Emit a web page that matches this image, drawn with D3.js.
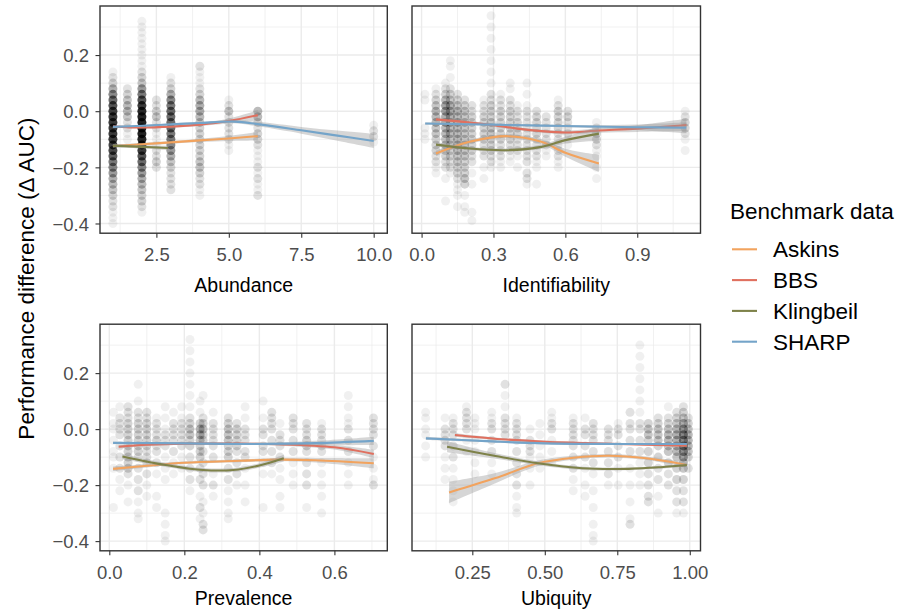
<!DOCTYPE html>
<html><head><meta charset="utf-8">
<script src="https://cdn.jsdelivr.net/npm/d3@7"></script>
<style>body{margin:0;background:#fff} text{font-family:"Liberation Sans",Arial,Helvetica,sans-serif}</style>
</head><body><svg id="c" width="914" height="612"></svg>
<script>
// ---------------- DATA ----------------
const series = ["Askins", "BBS", "Klingbeil", "SHARP"];
const seriesColors = ["#F2A35E", "#E0705F", "#7E8249", "#74A4C9"];
const yTicks = [-0.4, -0.2, 0, 0.2];
const yMinor = [-0.3, -0.1, 0.1, 0.3];

const abundanceTicks = [2.5, 5, 7.5, 10];
const abundanceMinor = [1.25, 3.75, 6.25, 8.75];
const identTicks = [0, 0.3, 0.6, 0.9];
const identMinor = [0.15, 0.45, 0.75, 1.05];
const prevTicks = [0, 0.2, 0.4, 0.6];
const prevMinor = [0.1, 0.3, 0.5, 0.7];
const ubiqTicks = [0.25, 0.5, 0.75, 1.0];
const ubiqMinor = [0.125, 0.375, 0.625, 0.875];

// point columns: [x, [[y, count], ...]]
const abundancePts = [
  [1, [[0.14,1],[0.12,2],[0.10,3],[0.08,6],[0.06,10],[0.04,14],[0.02,18],[0.0,22],[-0.02,24],[-0.04,24],[-0.06,24],[-0.08,24],[-0.10,24],[-0.12,22],[-0.14,20],[-0.16,16],[-0.18,12],[-0.20,10],[-0.22,8],[-0.24,6],[-0.26,5],[-0.28,4],[-0.30,3],[-0.32,2],[-0.34,2],[-0.36,1],[-0.38,1],[-0.40,1]]],
  [1.5, [[0.08,2],[0.06,3],[0.04,4],[0.02,5],[0.0,5],[-0.02,4],[-0.04,2],[-0.06,2],[-0.08,1],[-0.10,1]]],
  [2, [[0.32,1],[0.30,1],[0.28,1],[0.26,1],[0.24,1],[0.22,1],[0.20,1],[0.18,1],[0.16,1],[0.14,2],[0.12,3],[0.10,4],[0.08,8],[0.06,12],[0.04,18],[0.02,24],[0.0,30],[-0.02,32],[-0.04,32],[-0.06,32],[-0.08,32],[-0.10,30],[-0.12,28],[-0.14,24],[-0.16,18],[-0.18,14],[-0.20,10],[-0.22,8],[-0.24,6],[-0.26,5],[-0.28,4],[-0.30,3],[-0.32,3],[-0.34,2],[-0.36,1]]],
  [2.5, [[0.04,2],[0.02,2],[0.0,3],[-0.02,4],[-0.04,2],[-0.06,2],[-0.08,1],[-0.10,1],[-0.12,1],[-0.14,2],[-0.16,2],[-0.18,3],[-0.20,2]]],
  [3, [[0.12,1],[0.10,2],[0.08,3],[0.06,6],[0.04,10],[0.02,12],[0.0,14],[-0.02,14],[-0.04,14],[-0.06,14],[-0.08,12],[-0.10,12],[-0.12,10],[-0.14,8],[-0.16,6],[-0.18,4],[-0.20,3],[-0.22,2],[-0.24,2],[-0.26,2],[-0.28,2]]],
  [4, [[0.16,2],[0.14,1],[0.12,1],[0.10,1],[0.08,2],[0.06,3],[0.04,5],[0.02,6],[0.0,6],[-0.02,5],[-0.04,4],[-0.06,3],[-0.08,3],[-0.10,3],[-0.12,3],[-0.14,3],[-0.16,3],[-0.18,4],[-0.20,4],[-0.22,3],[-0.24,2],[-0.26,2],[-0.28,1],[-0.30,1]]],
  [5, [[0.04,1],[0.02,2],[0.0,4],[-0.02,2],[-0.04,2],[-0.06,2],[-0.08,2],[-0.10,2],[-0.12,1],[-0.14,1]]],
  [6, [[0.0,5],[-0.02,5],[-0.04,3],[-0.06,2],[-0.08,3],[-0.10,3],[-0.12,2],[-0.14,1],[-0.16,1],[-0.18,1],[-0.20,2],[-0.22,1],[-0.24,2],[-0.26,1],[-0.28,1],[-0.30,2]]],
  [10, [[-0.05,1],[-0.07,2],[-0.09,2],[-0.11,1]]]
];

const identPts = [
  [0.014, [[0.06,1],[0.04,1],[-0.06,1],[-0.08,1],[-0.10,1]]],
  [0.06, [[0.08,1],[0.06,2],[0.04,3],[0.02,4],[0.0,5],[-0.02,5],[-0.04,5],[-0.06,4],[-0.08,4],[-0.10,3],[-0.12,3],[-0.14,3],[-0.16,2],[-0.18,2],[-0.20,1],[-0.22,1]]],
  [0.10, [[0.10,1],[0.08,2],[0.06,3],[0.04,5],[0.02,7],[0.0,7],[-0.02,6],[-0.04,6],[-0.06,5],[-0.08,5],[-0.10,4],[-0.12,4],[-0.14,3],[-0.16,3],[-0.18,2],[-0.20,2],[-0.24,1],[-0.32,1]]],
  [0.12, [[0.18,1],[0.16,1],[0.12,1],[0.08,2],[0.06,3],[0.04,4],[0.02,6],[0.0,6],[-0.02,6],[-0.04,5],[-0.06,5],[-0.08,5],[-0.10,4],[-0.12,4],[-0.14,3],[-0.16,3],[-0.18,2],[-0.20,2],[-0.22,1]]],
  [0.15, [[0.06,2],[0.04,3],[0.02,4],[0.0,5],[-0.02,5],[-0.04,5],[-0.06,5],[-0.08,5],[-0.10,5],[-0.12,5],[-0.14,5],[-0.16,4],[-0.18,4],[-0.20,3],[-0.22,3],[-0.24,2],[-0.26,1],[-0.28,1],[-0.30,1],[-0.34,1]]],
  [0.18, [[0.04,2],[0.02,3],[0.0,4],[-0.02,4],[-0.04,4],[-0.06,4],[-0.08,4],[-0.10,4],[-0.12,4],[-0.14,4],[-0.16,4],[-0.18,3],[-0.20,3],[-0.22,3],[-0.24,4],[-0.26,3],[-0.30,1],[-0.34,1],[-0.36,1]]],
  [0.21, [[0.02,2],[0.0,2],[-0.02,3],[-0.04,3],[-0.06,3],[-0.08,3],[-0.10,3],[-0.12,3],[-0.14,3],[-0.16,2],[-0.18,2],[-0.22,1],[-0.26,1],[-0.36,1],[-0.39,1]]],
  [0.26, [[0.04,1],[0.02,2],[0.0,2],[-0.02,3],[-0.04,3],[-0.06,3],[-0.08,3],[-0.10,3],[-0.12,2],[-0.14,2],[-0.16,2],[-0.20,1],[-0.24,1]]],
  [0.29, [[0.34,1],[0.30,1],[0.26,1],[0.22,1],[0.18,1],[0.14,1],[0.10,1],[0.06,2],[0.04,2],[0.02,3],[0.0,3],[-0.02,3],[-0.04,4],[-0.06,4],[-0.08,4],[-0.10,3],[-0.12,3],[-0.14,3],[-0.16,2],[-0.18,2],[-0.20,1]]],
  [0.33, [[0.06,1],[0.04,2],[0.02,2],[0.0,3],[-0.02,3],[-0.04,3],[-0.06,3],[-0.08,3],[-0.10,3],[-0.12,2],[-0.14,2],[-0.16,2],[-0.18,1],[-0.20,1]]],
  [0.37, [[0.10,1],[0.08,1],[0.04,2],[0.02,2],[0.0,3],[-0.02,3],[-0.04,3],[-0.06,3],[-0.08,3],[-0.10,3],[-0.12,2],[-0.14,2],[-0.16,1],[-0.18,1]]],
  [0.40, [[0.02,1],[0.0,2],[-0.02,2],[-0.04,3],[-0.06,3],[-0.08,3],[-0.10,2],[-0.12,2],[-0.14,2],[-0.16,1],[-0.20,1]]],
  [0.44, [[0.10,1],[0.06,1],[0.02,1],[0.0,2],[-0.02,2],[-0.04,2],[-0.06,2],[-0.08,2],[-0.10,2],[-0.12,2],[-0.14,2],[-0.16,2],[-0.18,2],[-0.22,2],[-0.24,2],[-0.26,1]]],
  [0.48, [[0.0,2],[-0.02,3],[-0.04,3],[-0.06,3],[-0.08,3],[-0.10,2],[-0.12,2],[-0.14,2],[-0.16,2],[-0.18,1],[-0.20,1],[-0.26,1]]],
  [0.52, [[-0.02,2],[-0.04,2],[-0.06,2],[-0.08,2],[-0.10,2],[-0.12,2],[-0.14,1],[-0.16,1]]],
  [0.57, [[0.04,1],[0.02,2],[0.0,3],[-0.02,3],[-0.04,3],[-0.06,3],[-0.08,2],[-0.10,2],[-0.12,2],[-0.14,2],[-0.16,2],[-0.18,1],[-0.20,1]]],
  [0.61, [[0.0,2],[-0.02,3],[-0.04,2],[-0.06,2],[-0.08,2],[-0.10,1],[-0.12,1]]],
  [0.73, [[-0.04,1],[-0.06,2],[-0.08,3],[-0.10,3],[-0.12,2],[-0.14,1],[-0.16,1],[-0.20,1],[-0.24,1]]],
  [1.10, [[0.0,1],[-0.02,2],[-0.04,3],[-0.06,3],[-0.08,2],[-0.10,1],[-0.14,1]]]
];

const prevPts = [
  [0.011, [[0.06,1],[0.02,1],[0.0,1],[-0.04,1],[-0.08,1],[-0.10,1],[-0.14,1],[-0.28,1]]],
  [0.028, [[0.08,1],[0.04,2],[0.02,2],[0.0,2],[-0.02,2],[-0.06,2],[-0.10,2],[-0.14,2],[-0.18,1],[-0.22,1]]],
  [0.05, [[0.08,2],[0.06,2],[0.04,2],[0.02,3],[0.0,3],[-0.02,3],[-0.04,3],[-0.06,3],[-0.08,3],[-0.10,3],[-0.12,3],[-0.14,3],[-0.16,2],[-0.20,1],[-0.26,1]]],
  [0.077, [[0.16,1],[0.10,1],[0.06,2],[0.04,2],[0.02,3],[0.0,3],[-0.02,3],[-0.04,3],[-0.06,3],[-0.08,3],[-0.10,2],[-0.14,2],[-0.18,2],[-0.22,2],[-0.26,1],[-0.30,1],[-0.32,1]]],
  [0.10, [[0.06,2],[0.04,2],[0.02,3],[0.0,3],[-0.02,3],[-0.04,3],[-0.06,3],[-0.08,2],[-0.10,2],[-0.12,2],[-0.16,2],[-0.20,1],[-0.24,1]]],
  [0.126, [[0.04,1],[0.02,2],[0.0,2],[-0.02,2],[-0.04,3],[-0.06,2],[-0.08,2],[-0.12,2],[-0.16,1],[-0.24,1],[-0.28,1]]],
  [0.149, [[0.08,1],[0.04,1],[0.0,1],[-0.02,2],[-0.04,2],[-0.06,2],[-0.10,1],[-0.14,1],[-0.18,1],[-0.30,1],[-0.34,1],[-0.38,1],[-0.40,1]]],
  [0.171, [[0.06,1],[0.02,2],[0.0,2],[-0.02,2],[-0.04,2],[-0.08,2],[-0.12,1],[-0.16,1]]],
  [0.193, [[0.08,1],[0.04,1],[0.02,2],[0.0,2],[-0.02,2],[-0.04,2],[-0.06,2],[-0.10,1],[-0.14,1]]],
  [0.215, [[0.32,1],[0.28,1],[0.24,1],[0.20,1],[0.16,1],[0.12,1],[0.08,1],[0.04,2],[0.02,3],[0.0,4],[-0.02,4],[-0.04,3],[-0.06,3],[-0.10,2],[-0.14,2],[-0.18,2],[-0.22,1]]],
  [0.242, [[0.10,1],[0.06,1],[0.02,3],[0.0,5],[-0.02,5],[-0.04,4],[-0.06,3],[-0.08,3],[-0.10,3],[-0.14,2],[-0.18,2],[-0.24,1],[-0.28,2],[-0.32,1]]],
  [0.25, [[0.12,1],[0.04,2],[0.02,3],[0.0,4],[-0.02,3],[-0.04,3],[-0.08,2],[-0.12,2],[-0.16,2],[-0.20,2],[-0.26,1],[-0.30,1],[-0.34,2],[-0.36,2]]],
  [0.277, [[0.06,1],[0.02,2],[0.0,2],[-0.02,2],[-0.04,2],[-0.06,2],[-0.10,2],[-0.16,1],[-0.20,2],[-0.24,1]]],
  [0.317, [[0.04,2],[0.02,3],[0.0,4],[-0.02,4],[-0.04,4],[-0.06,3],[-0.08,3],[-0.10,3],[-0.14,2],[-0.18,2],[-0.22,1],[-0.26,1],[-0.30,1],[-0.32,1]]],
  [0.34, [[0.02,2],[0.0,3],[-0.02,3],[-0.04,3],[-0.06,3],[-0.08,2],[-0.12,2],[-0.16,2],[-0.20,1]]],
  [0.362, [[0.08,1],[0.04,1],[0.0,2],[-0.02,2],[-0.04,2],[-0.08,2],[-0.10,2],[-0.14,1],[-0.20,1],[-0.26,1]]],
  [0.41, [[0.10,1],[0.04,1],[0.0,2],[-0.02,2],[-0.06,2],[-0.08,2],[-0.12,1],[-0.16,1],[-0.28,1]]],
  [0.433, [[0.06,2],[0.04,2],[0.02,2],[0.0,2],[-0.04,2],[-0.08,2],[-0.12,2],[-0.16,1]]],
  [0.455, [[0.02,1],[-0.02,2],[-0.04,2],[-0.06,2],[-0.10,2],[-0.14,1],[-0.18,1],[-0.24,1],[-0.28,1]]],
  [0.49, [[0.04,2],[0.02,2],[0.0,2],[-0.04,2],[-0.08,2],[-0.12,1],[-0.16,1],[-0.20,1]]],
  [0.526, [[0.02,2],[0.0,2],[-0.02,2],[-0.04,3],[-0.06,3],[-0.08,2],[-0.12,2],[-0.16,2],[-0.20,2],[-0.28,1]]],
  [0.566, [[0.02,1],[0.0,2],[-0.02,2],[-0.04,2],[-0.06,2],[-0.08,2],[-0.12,1],[-0.16,1],[-0.20,1],[-0.24,1],[-0.30,1]]],
  [0.637, [[0.12,1],[0.08,1],[0.04,1],[0.02,1],[0.0,2],[-0.04,2],[-0.08,2],[-0.12,1],[-0.16,1],[-0.20,1]]],
  [0.704, [[0.04,2],[0.02,2],[0.0,2],[-0.02,2],[-0.06,2],[-0.10,1],[-0.14,1],[-0.18,1],[-0.20,2]]]
];

const ubiqPts = [
  [0.089, [[0.06,1],[0.04,1],[0.0,1],[-0.02,1],[-0.06,1],[-0.10,1]]],
  [0.156, [[0.04,1],[0.0,2],[-0.02,2],[-0.04,2],[-0.06,2],[-0.10,1],[-0.14,1],[-0.18,1]]],
  [0.184, [[0.04,1],[0.02,2],[0.0,2],[-0.02,2],[-0.06,2],[-0.10,2],[-0.14,1],[-0.18,1],[-0.22,1],[-0.26,1]]],
  [0.23, [[0.08,1],[0.06,2],[0.04,2],[0.02,2],[0.0,2],[-0.04,1],[-0.08,1]]],
  [0.259, [[0.04,1],[0.02,1],[0.0,1],[-0.04,1],[-0.08,1],[-0.12,1],[-0.16,1]]],
  [0.317, [[0.06,1],[0.04,1],[0.02,2],[0.0,2],[-0.04,2],[-0.08,2],[-0.12,1],[-0.16,1]]],
  [0.363, [[0.16,2],[0.12,1],[0.08,1],[0.04,2],[0.02,2],[0.0,2],[-0.02,2]]],
  [0.403, [[0.04,1],[0.02,2],[0.0,2],[-0.02,2],[-0.04,2],[-0.08,2],[-0.12,2],[-0.16,2],[-0.20,2],[-0.24,1],[-0.28,1],[-0.30,1]]],
  [0.449, [[0.0,1],[-0.04,2],[-0.06,2],[-0.08,2],[-0.10,1],[-0.14,1],[-0.20,1]]],
  [0.483, [[0.02,1],[-0.02,1],[-0.06,1],[-0.10,1],[-0.14,1]]],
  [0.524, [[0.06,1],[0.04,1],[0.02,2],[0.0,2],[-0.04,1],[-0.08,1],[-0.12,1]]],
  [0.598, [[0.04,1],[0.02,2],[0.0,2],[-0.02,2],[-0.04,2],[-0.06,2],[-0.10,2],[-0.14,2],[-0.18,1],[-0.22,1]]],
  [0.639, [[0.04,1],[0.0,2],[-0.02,2],[-0.06,2],[-0.10,2],[-0.14,1],[-0.20,1],[-0.24,1]]],
  [0.667, [[0.02,2],[0.0,2],[-0.02,2],[-0.04,2],[-0.08,2],[-0.12,2],[-0.16,1],[-0.22,1],[-0.28,1],[-0.34,1],[-0.38,1],[-0.40,1]]],
  [0.719, [[0.0,2],[-0.02,2],[-0.04,2],[-0.08,2],[-0.12,2],[-0.16,2],[-0.20,1]]],
  [0.753, [[0.02,1],[0.0,2],[-0.02,2],[-0.06,2],[-0.10,2],[-0.14,1],[-0.20,1]]],
  [0.794, [[0.06,2],[0.02,2],[0.0,2],[-0.04,2],[-0.08,2],[-0.14,1],[-0.20,1],[-0.26,1],[-0.32,1],[-0.34,2]]],
  [0.828, [[0.30,1],[0.26,1],[0.22,1],[0.18,1],[0.14,1],[0.10,1],[0.06,1],[0.02,2],[0.0,2],[-0.04,2],[-0.08,2],[-0.12,1],[-0.16,1],[-0.20,1]]],
  [0.857, [[0.02,3],[0.0,4],[-0.02,4],[-0.04,3],[-0.08,3],[-0.12,3],[-0.16,2],[-0.20,2],[-0.24,2],[-0.26,2]]],
  [0.891, [[0.04,2],[0.02,3],[0.0,4],[-0.02,4],[-0.04,4],[-0.06,3],[-0.10,3],[-0.14,2],[-0.18,2],[-0.24,1],[-0.30,1]]],
  [0.926, [[0.08,1],[0.04,2],[0.02,3],[0.0,4],[-0.02,5],[-0.04,5],[-0.06,4],[-0.08,4],[-0.12,3],[-0.16,2],[-0.20,2]]],
  [0.955, [[0.06,2],[0.04,3],[0.02,4],[0.0,5],[-0.02,6],[-0.04,6],[-0.06,5],[-0.08,5],[-0.10,4],[-0.14,3],[-0.18,3],[-0.22,2],[-0.26,2],[-0.30,1]]],
  [0.978, [[0.08,2],[0.06,3],[0.04,4],[0.02,6],[0.0,8],[-0.02,10],[-0.04,10],[-0.06,10],[-0.08,9],[-0.10,7],[-0.12,5],[-0.14,4],[-0.18,3],[-0.22,2],[-0.26,2],[-0.30,1]]],
  [0.995, [[0.04,2],[0.02,3],[0.0,4],[-0.02,5],[-0.04,5],[-0.06,5],[-0.08,4],[-0.10,3],[-0.14,2]]]
];

// smooth fits per series (Askins, BBS, Klingbeil, SHARP): [x, fit, se]
const abundanceSmooth = [
  [[1,-0.124,0.006],[2,-0.118,0.005],[3,-0.111,0.005],[4,-0.104,0.006],[5,-0.097,0.009],[6,-0.089,0.015]],
  [[1,-0.055,0.004],[2,-0.058,0.003],[3,-0.055,0.004],[4,-0.048,0.005],[5,-0.035,0.009],[6,-0.014,0.018]],
  [[1,-0.123,0.006],[2,-0.127,0.006],[2.9,-0.131,0.008]],
  [[1,-0.056,0.003],[2,-0.052,0.003],[3,-0.047,0.003],[4,-0.042,0.004],[5.2,-0.037,0.006],[6,-0.046,0.008],[7.5,-0.068,0.012],[8.75,-0.087,0.018],[10,-0.106,0.025]]
];
const identSmooth = [
  [[0.06,-0.151,0.01],[0.2,-0.109,0.007],[0.36,-0.089,0.007],[0.5,-0.109,0.009],[0.6,-0.148,0.014],[0.74,-0.186,0.03]],
  [[0.06,-0.029,0.008],[0.2,-0.04,0.005],[0.3,-0.05,0.005],[0.4,-0.062,0.005],[0.5,-0.071,0.006],[0.6,-0.076,0.007],[0.74,-0.069,0.008],[0.9,-0.062,0.012],[1.105,-0.049,0.022]],
  [[0.06,-0.119,0.008],[0.2,-0.133,0.006],[0.35,-0.139,0.006],[0.5,-0.127,0.008],[0.6,-0.103,0.012],[0.74,-0.08,0.025]],
  [[0.015,-0.044,0.004],[0.3,-0.048,0.003],[0.6,-0.053,0.004],[0.9,-0.057,0.01],[1.105,-0.059,0.02]]
];
const prevSmooth = [
  [[0.01,-0.142,0.008],[0.1,-0.131,0.006],[0.2,-0.12,0.005],[0.35,-0.113,0.005],[0.45,-0.109,0.006],[0.55,-0.111,0.008],[0.705,-0.122,0.018]],
  [[0.025,-0.063,0.006],[0.1,-0.056,0.004],[0.2,-0.052,0.004],[0.35,-0.052,0.004],[0.45,-0.054,0.005],[0.6,-0.065,0.008],[0.705,-0.089,0.015]],
  [[0.035,-0.098,0.01],[0.1,-0.116,0.008],[0.15,-0.128,0.007],[0.25,-0.146,0.007],[0.33,-0.146,0.007],[0.4,-0.13,0.008],[0.465,-0.104,0.012]],
  [[0.01,-0.049,0.004],[0.2,-0.051,0.003],[0.4,-0.053,0.004],[0.55,-0.05,0.008],[0.705,-0.042,0.015]]
];
const ubiqSmooth = [
  [[0.17,-0.226,0.038],[0.33,-0.175,0.018],[0.476,-0.122,0.01],[0.6,-0.102,0.007],[0.72,-0.095,0.006],[0.85,-0.104,0.006],[0.99,-0.128,0.008]],
  [[0.19,-0.021,0.006],[0.35,-0.036,0.004],[0.5,-0.045,0.004],[0.75,-0.053,0.003],[0.99,-0.059,0.004]],
  [[0.163,-0.063,0.02],[0.33,-0.096,0.01],[0.476,-0.122,0.007],[0.63,-0.14,0.006],[0.79,-0.142,0.005],[0.9,-0.136,0.005],[0.99,-0.128,0.006]],
  [[0.09,-0.033,0.006],[0.3,-0.043,0.004],[0.5,-0.051,0.003],[0.75,-0.053,0.003],[0.99,-0.053,0.004]]
];

// ---------------- LAYOUT ----------------
const svg = d3.select("#c");
const colsGeo = [{x0:100, x1:387.3}, {x0:412, x1:700.5}];
const rowsGeo = [{y0:6, y1:233.2, tickY:27.5, titleY:291.5}, {y0:324.2, y1:550.8, tickY:28.5, titleY:605}];
const yDomain = [-0.4346, 0.3747];
const fmt1 = d3.format(".1f"), fmt2 = d3.format(".2f");

const panels = [
  {name:"Abundance", c:0, r:0, dom:[0.554,10.47], ticks:abundanceTicks, minor:abundanceMinor, fmt:fmt1, pts:abundancePts, sm:abundanceSmooth},
  {name:"Identifiability", c:1, r:0, dom:[-0.04,1.164], ticks:identTicks, minor:identMinor, fmt:fmt1, pts:identPts, sm:identSmooth},
  {name:"Prevalence", c:0, r:1, dom:[-0.0248,0.741], ticks:prevTicks, minor:prevMinor, fmt:fmt1, pts:prevPts, sm:prevSmooth},
  {name:"Ubiquity", c:1, r:1, dom:[0.042,1.037], ticks:ubiqTicks, minor:ubiqMinor, fmt:fmt2, pts:ubiqPts, sm:ubiqSmooth}
];

const ptAlpha = 0.06;
panels.forEach((p, i) => {
  const cg = colsGeo[p.c], rg = rowsGeo[p.r];
  const x = d3.scaleLinear().domain(p.dom).range([cg.x0, cg.x1]);
  const y = d3.scaleLinear().domain(yDomain).range([rg.y1, rg.y0]);
  const g = svg.append("g");
  const cid = "clip" + i;
  svg.append("clipPath").attr("id", cid).append("rect")
    .attr("x", cg.x0).attr("y", rg.y0).attr("width", cg.x1 - cg.x0).attr("height", rg.y1 - rg.y0);
  const inner = g.append("g").attr("clip-path", `url(#${cid})`);
  // grid
  inner.selectAll(".mx").data(p.minor).join("line")
    .attr("x1", d => x(d)).attr("x2", d => x(d)).attr("y1", rg.y0).attr("y2", rg.y1)
    .attr("stroke", "#EBEBEB").attr("stroke-width", 0.7);
  inner.selectAll(".my").data(yMinor).join("line")
    .attr("y1", d => y(d)).attr("y2", d => y(d)).attr("x1", cg.x0).attr("x2", cg.x1)
    .attr("stroke", "#EBEBEB").attr("stroke-width", 0.7);
  inner.append("g").selectAll("line").data(p.ticks).join("line")
    .attr("x1", d => x(d)).attr("x2", d => x(d)).attr("y1", rg.y0).attr("y2", rg.y1)
    .attr("stroke", "#EBEBEB").attr("stroke-width", 1.4);
  inner.append("g").selectAll("line").data(yTicks).join("line")
    .attr("y1", d => y(d)).attr("y2", d => y(d)).attr("x1", cg.x0).attr("x2", cg.x1)
    .attr("stroke", "#EBEBEB").attr("stroke-width", 1.4);
  // points
  const flat = [];
  p.pts.forEach(([xv, arr]) => arr.forEach(([yv, n]) => flat.push([xv, yv, n])));
  inner.append("g").selectAll("circle").data(flat).join("circle")
    .attr("cx", d => x(d[0])).attr("cy", d => y(d[1])).attr("r", 4.5)
    .attr("fill", "#000").attr("fill-opacity", d => 1 - Math.pow(1 - ptAlpha, d[2]));
  // smooths
  const area = d3.area().x(d => x(d[0])).y0(d => y(d[1] - d[2])).y1(d => y(d[1] + d[2])).curve(d3.curveCatmullRom);
  const line = d3.line().x(d => x(d[0])).y(d => y(d[1])).curve(d3.curveCatmullRom);
  p.sm.forEach((s, k) => {
    inner.append("path").attr("d", area(s)).attr("fill", "#999999").attr("fill-opacity", 0.4);
    inner.append("path").attr("d", line(s)).attr("fill", "none").attr("stroke", seriesColors[k]).attr("stroke-width", 2.1);
  });
  // border
  g.append("rect").attr("x", cg.x0).attr("y", rg.y0).attr("width", cg.x1 - cg.x0).attr("height", rg.y1 - rg.y0)
    .attr("fill", "none").attr("stroke", "#333333").attr("stroke-width", 1.4);
  // x axis
  const xa = g.append("g").attr("transform", `translate(0,${rg.y1})`)
    .call(d3.axisBottom(x).tickValues(p.ticks).tickSize(4.5).tickFormat(p.fmt));
  xa.select(".domain").remove();
  xa.selectAll(".tick line").attr("stroke", "#333333").attr("stroke-width", 1.1);
  xa.selectAll(".tick text").attr("y", rg.tickY).attr("dy", null)
    .attr("fill", "#4D4D4D").attr("font-size", 18.5).attr("font-family", '"Liberation Sans",Arial,sans-serif');
  g.append("text").attr("x", (cg.x0 + cg.x1) / 2).attr("y", rg.titleY).attr("text-anchor", "middle")
    .attr("font-size", 19.5).attr("fill", "#000").text(p.name);
  if (p.c === 0) {
    const ya = g.append("g").attr("transform", `translate(${cg.x0},0)`)
      .call(d3.axisLeft(y).tickValues(yTicks).tickSize(4.5).tickFormat(fmt1));
    ya.select(".domain").remove();
    ya.selectAll(".tick line").attr("stroke", "#333333").attr("stroke-width", 1.1);
    ya.selectAll(".tick text").attr("x", -11).attr("dy", "0.36em")
      .attr("fill", "#4D4D4D").attr("font-size", 18.5).attr("font-family", '"Liberation Sans",Arial,sans-serif');
  }
});

// y title
svg.append("text").attr("transform", "translate(34,278.5) rotate(-90)").attr("text-anchor", "middle")
  .attr("font-size", 22.5).attr("fill", "#000").text("Performance difference (\u0394 AUC)");

// legend
const lg = svg.append("g");
lg.append("text").attr("x", 730).attr("y", 219).attr("font-size", 22.5).attr("fill", "#000").text("Benchmark data");
series.forEach((s, k) => {
  const yy = 249.3 + k * 30.8;
  lg.append("line").attr("x1", 732).attr("x2", 757).attr("y1", yy).attr("y2", yy)
    .attr("stroke", seriesColors[k]).attr("stroke-width", 2.1);
  lg.append("text").attr("x", 773).attr("y", yy).attr("dy", "0.36em").attr("font-size", 22.5).attr("fill", "#000").text(s);
});
</script></body></html>
